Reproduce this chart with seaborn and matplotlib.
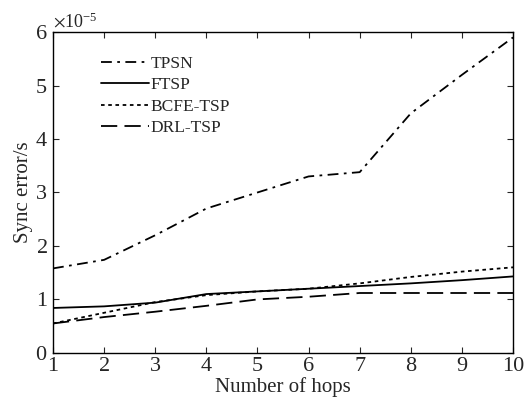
import matplotlib
matplotlib.use("Agg")
import matplotlib.pyplot as plt
import seaborn as sns
import pandas as pd

hops = [1, 2, 3, 4, 5, 6, 7, 8, 9, 10]
# sync error in units of 1e-5 s
tpsn = [1.58, 1.74, 2.2, 2.7, 3.0, 3.3, 3.38, 4.48, 5.2, 5.9]
ftsp = [0.84, 0.87, 0.94, 1.1, 1.15, 1.2, 1.25, 1.3, 1.36, 1.43]
bcfe = [0.55, 0.75, 0.95, 1.08, 1.15, 1.2, 1.3, 1.42, 1.52, 1.6]
drl = [0.55, 0.67, 0.77, 0.88, 1.0, 1.05, 1.12, 1.12, 1.12, 1.12]

series = {"TPSN": tpsn, "FTSP": ftsp, "BCFE-TSP": bcfe, "DRL-TSP": drl}
styles = {"TPSN": (0, (6, 3, 1.5, 3)), "FTSP": "-", "BCFE-TSP": (0, (2, 2)),
          "DRL-TSP": (0, (9, 4))}

sns.set_style("ticks")
plt.rcParams["font.family"] = ["Liberation Serif", "DejaVu Serif"]
plt.rcParams["mathtext.fontset"] = "stix"

fig = plt.figure(figsize=(5.3, 4.01), dpi=100)
ax = fig.add_axes([0.1, 0.12, 0.868, 0.8])

for name, vals in series.items():
    df = pd.DataFrame({"hops": hops, "err": [v * 1e-5 for v in vals]})
    sns.lineplot(data=df, x="hops", y="err", ax=ax, color="black",
                 linewidth=1.3, linestyle=styles[name], label=name)

ax.set_xlim(1, 10)
ax.set_ylim(0, 6e-5)
ax.set_xticks(hops)
ax.set_yticks([i * 1e-5 for i in range(7)])
ax.ticklabel_format(axis="y", style="sci", scilimits=(0, 0), useMathText=True)
ax.yaxis.get_offset_text().set_fontsize(13)
ax.tick_params(direction="in", top=True, right=True, labelsize=16, length=4)
ax.tick_params(axis="x", pad=3)
ax.tick_params(axis="y", pad=4)
for sp in ax.spines.values():
    sp.set_linewidth(1.0)
    sp.set_color("black")
ax.set_xlabel("Number of hops", fontsize=15, labelpad=1)
ax.set_ylabel("Sync error/s", fontsize=15, labelpad=1)

leg = ax.legend(loc="upper left", bbox_to_anchor=(0.07, 0.975), frameon=False,
                fontsize=12.5, handlelength=2.75, handletextpad=0.1,
                labelspacing=0.3)

fig.savefig("out.png", dpi=100)
